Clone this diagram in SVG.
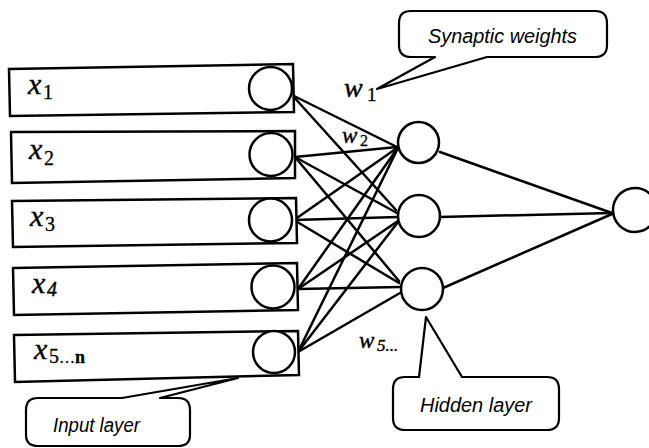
<svg xmlns="http://www.w3.org/2000/svg" width="649" height="448" viewBox="0 0 649 448">
<style>
  .box { fill: #fff; stroke: #000; stroke-width: 2.5; stroke-linejoin: miter; }
  .node { fill: #fff; stroke: #000; stroke-width: 2.5; }
  .edge { stroke: #000; stroke-width: 2.5; stroke-linecap: round; fill: none; }
  .callout { fill: #fff; stroke: #000; stroke-width: 2.2; stroke-linejoin: round; }
  .var { font-family: "Liberation Serif", "Times New Roman", serif; font-style: italic; fill: #000; stroke: #000; stroke-width: 0.4; }
  .sub { font-family: "Liberation Serif", "Times New Roman", serif; fill: #000; stroke: #000; stroke-width: 0.3; }
  .lbl { font-family: "Liberation Sans", Arial, sans-serif; font-style: italic; font-size: 20px; fill: #000; }
</style>
<rect width="649" height="448" fill="#fff"/>

<g id="connectors">
  <line class="edge" x1="292" y1="95" x2="397" y2="147"/>
  <line class="edge" x1="292" y1="95" x2="396" y2="210"/>
  <line class="edge" x1="295" y1="157" x2="397" y2="147"/>
  <line class="edge" x1="295" y1="157" x2="397" y2="213"/>
  <line class="edge" x1="295" y1="157" x2="399" y2="281"/>
  <line class="edge" x1="294" y1="220" x2="397" y2="148"/>
  <line class="edge" x1="294" y1="220" x2="398" y2="217"/>
  <line class="edge" x1="294" y1="220" x2="399" y2="283"/>
  <line class="edge" x1="298" y1="289" x2="397" y2="149"/>
  <line class="edge" x1="298" y1="289" x2="398" y2="221"/>
  <line class="edge" x1="298" y1="289" x2="400" y2="287"/>
  <line class="edge" x1="298" y1="352" x2="397" y2="150"/>
  <line class="edge" x1="298" y1="352" x2="398" y2="222"/>
  <line class="edge" x1="298" y1="352" x2="400" y2="293"/>
  <line class="edge" x1="440" y1="152" x2="612" y2="213"/>
  <line class="edge" x1="440" y1="217" x2="612" y2="213"/>
  <line class="edge" x1="443" y1="288" x2="612" y2="214"/>
</g>

<g id="input1">
  <polygon class="box" points="9,69 293,64 294,112 10,116"/>
  <circle class="node" cx="270.5" cy="88.5" r="21.5"/>
  <text class="var" x="28" y="94" font-size="30">x</text>
  <text class="sub" x="43" y="99" font-size="20">1</text>
</g>
<g id="input2">
  <polygon class="box" points="11,132 295,131 295,178 12,183"/>
  <circle class="node" cx="271" cy="154.5" r="21.5"/>
  <text class="var" x="29" y="159" font-size="30">x</text>
  <text class="sub" x="44" y="165" font-size="20">2</text>
</g>
<g id="input3">
  <polygon class="box" points="12,201 296,198 297,243 13,247"/>
  <circle class="node" cx="270.5" cy="220" r="21.5"/>
  <text class="var" x="30" y="226" font-size="30">x</text>
  <text class="sub" x="45" y="231" font-size="20">3</text>
</g>
<g id="input4">
  <polygon class="box" points="13,268 297,263 298,310 14,315"/>
  <circle class="node" cx="273" cy="287" r="21.5"/>
  <text class="var" x="32" y="293" font-size="30">x</text>
  <text class="var" x="47" y="296" font-size="20">4</text>
</g>
<g id="input5">
  <polygon class="box" points="14,335 298,331 299,375 15,382"/>
  <circle class="node" cx="274" cy="352" r="21"/>
  <text class="var" x="34" y="359" font-size="30">x</text>
  <text class="sub" x="49" y="363" font-size="20">5<tspan font-size="16">…</tspan><tspan font-weight="bold" font-size="18">n</tspan></text>
</g>

<g id="hidden1"><circle class="node" cx="418.5" cy="142.5" r="20.5"/></g>
<g id="hidden2"><circle class="node" cx="419" cy="216" r="21"/></g>
<g id="hidden3"><circle class="node" cx="422" cy="289" r="21"/></g>
<g id="output"><circle class="node" cx="635" cy="210" r="22"/></g>

<g id="weight-labels">
  <text class="var" x="344" y="97" font-size="28">w</text>
  <text class="sub" x="367" y="101" font-size="19">1</text>
  <text class="var" x="342" y="143" font-size="23">w</text>
  <text class="sub" x="360" y="146" font-size="16">2</text>
  <text class="var" x="359" y="348" font-size="23">w</text>
  <text class="var" x="377" y="351" font-size="17">5...</text>
</g>

<g id="callout-synaptic">
  <path class="callout" d="M 411 11 H 595 Q 607 11 607 23 V 45 Q 607 57 595 57 H 487 L 377 89 L 435 57 H 411 Q 399 57 399 45 V 23 Q 399 11 411 11 Z"/>
  <text class="lbl" x="428" y="43" textLength="149" lengthAdjust="spacingAndGlyphs">Synaptic weights</text>
</g>
<g id="callout-hidden">
  <path class="callout" d="M 405 377 H 419 L 426 317 L 462 377 H 547 Q 559 377 559 389 V 418 Q 559 430 547 430 H 405 Q 393 430 393 418 V 389 Q 393 377 405 377 Z"/>
  <text class="lbl" x="420" y="412" textLength="112" lengthAdjust="spacingAndGlyphs">Hidden layer</text>
</g>
<g id="callout-input">
  <path class="callout" d="M 38 398 H 122 L 238 378 L 160 398 H 178 Q 190 398 190 410 V 435 Q 190 446 178 446 H 38 Q 26 446 26 435 V 410 Q 26 398 38 398 Z"/>
  <text class="lbl" x="53" y="432" textLength="87" lengthAdjust="spacingAndGlyphs">Input layer</text>
</g>
</svg>
